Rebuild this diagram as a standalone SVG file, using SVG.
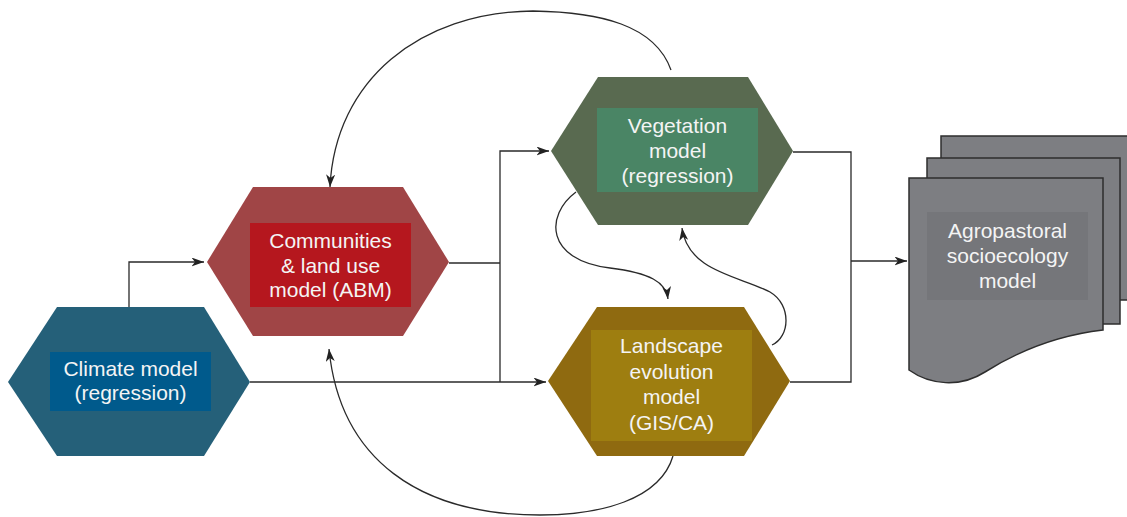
<svg xmlns="http://www.w3.org/2000/svg" width="1127" height="517" viewBox="0 0 1127 517">
<style>
.lbl{font-family:"Liberation Sans",Arial,Helvetica,sans-serif;font-size:21px;fill:#f4f4f4;text-anchor:middle}
.ln{fill:none;stroke:#2a2a2a;stroke-width:1.3}
.pg{fill:#7d7e82;stroke:#2e2e2e;stroke-width:1.5}
</style>
<defs>
<marker id="ah" markerUnits="userSpaceOnUse" markerWidth="14" markerHeight="10" refX="12.5" refY="4.5" orient="auto">
<path d="M0,0 L12.5,4.5 L0,9 L3.5,4.5 z" fill="#222"/>
</marker>
</defs>
<g id="connectors">
<path class="ln" d="M129,307 V262 H204" marker-end="url(#ah)"/>
<path class="ln" d="M250,382 H546" marker-end="url(#ah)"/>
<path class="ln" d="M449,263 H500"/>
<path class="ln" d="M500,382 V151 H549" marker-end="url(#ah)"/>
<path class="ln" d="M793,152 H851 V382 H790"/>
<path class="ln" d="M851,261 H907" marker-end="url(#ah)"/>
<path class="ln" d="M671,70 C655,25 600,12 533,11 C420,12 335,80 330,187" marker-end="url(#ah)"/>
<path class="ln" d="M673,456 C660,500 600,515 540,515 C420,515 340,460 329,349" marker-end="url(#ah)"/>
<path class="ln" d="M576,192 C545,215 545,260 610,268 C650,273 666,282 668,299" marker-end="url(#ah)"/>
<path class="ln" d="M772,345 C790,337 792,305 770,292 C740,276 688,272 682,228" marker-end="url(#ah)"/>
</g>
<g id="climate">
<polygon points="57,307 204,307 250,382 204,456 57,456 8,382" fill="#256079"/>
<rect x="50" y="352" width="161" height="59" fill="#005a8c"/>
<text class="lbl" x="130.5" y="376">Climate model</text>
<text class="lbl" x="130.5" y="400">(regression)</text>
</g>
<g id="communities">
<polygon points="253,187 403,187 449,262 403,336 253,336 207,262" fill="#a04546"/>
<rect x="250" y="223" width="161" height="84" fill="#b5171e"/>
<text class="lbl" x="330.5" y="248">Communities</text>
<text class="lbl" x="330.5" y="272.5">&amp; land use</text>
<text class="lbl" x="330.5" y="297">model (ABM)</text>
</g>
<g id="vegetation">
<polygon points="598,77 748,77 793,151 748,225 598,225 551,151" fill="#596a50"/>
<rect x="597" y="108" width="161" height="84" fill="#4a8565"/>
<text class="lbl" x="677.5" y="133">Vegetation</text>
<text class="lbl" x="677.5" y="158">model</text>
<text class="lbl" x="677.5" y="183">(regression)</text>
</g>
<g id="landscape">
<polygon points="597,307 744,307 790,381 744,456 597,456 548,381" fill="#8f6a10"/>
<rect x="591" y="330" width="161" height="111" fill="#9e7e10"/>
<text class="lbl" x="671.5" y="353">Landscape</text>
<text class="lbl" x="671.5" y="378.5">evolution</text>
<text class="lbl" x="671.5" y="404">model</text>
<text class="lbl" x="671.5" y="429.5">(GIS/CA)</text>
</g>
<g id="agropastoral">
<rect class="pg" x="941" y="136" width="190" height="164"/>
<rect class="pg" x="927" y="158" width="193" height="166"/>
<path class="pg" d="M909,178 H1103 V330 C1060,335 1020,350 985,372 C960,388 930,385 909,370 Z"/>
<rect x="927" y="212" width="161" height="88" fill="#75767a"/>
<text class="lbl" x="1007.5" y="238">Agropastoral</text>
<text class="lbl" x="1007.5" y="263">socioecology</text>
<text class="lbl" x="1007.5" y="288">model</text>
</g>
</svg>
